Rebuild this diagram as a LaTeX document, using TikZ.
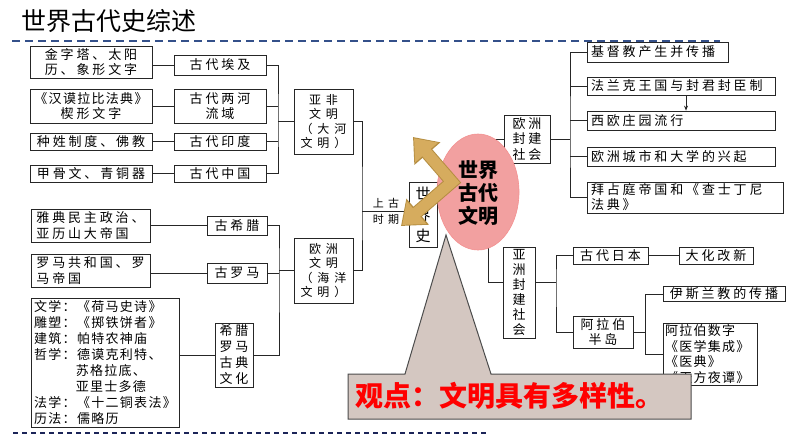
\documentclass[tikz,border=0pt]{standalone}
\usepackage{fontspec}
\usetikzlibrary{shapes.geometric,arrows.meta,calc}
\setmainfont{Noto Sans CJK SC}
\newfontfamily\cjk[LetterSpace=22]{Noto Sans CJK SC}
\newfontfamily\cjks[LetterSpace=10]{Noto Sans CJK SC}
\newfontfamily\cjkw[LetterSpace=40]{Noto Sans CJK SC}
\definecolor{dashA}{HTML}{34508A}
\definecolor{dashB}{HTML}{1B2458}
\definecolor{ellfill}{HTML}{F2A0A0}
\definecolor{goldc}{HTML}{D6AC5E}
\definecolor{golddk}{HTML}{B58E42}
\definecolor{callfill}{HTML}{D4C7C1}
\definecolor{redtxt}{HTML}{FF0000}
\tikzset{
  bx/.style={draw=black!85, line width=0.8pt, inner sep=0pt, align=center, fill=white,
    font=\cjk\fontsize{13}{15.5}\selectfont},
  sz/.style 2 args={minimum width=#1pt, minimum height=#2pt},
  lbx/.style={bx, align=left, inner xsep=4pt, text width=#1pt},
  conn/.style={draw=black!85, line width=0.8pt},
}
\begin{document}
\begin{tikzpicture}[x=1pt,y=-1pt]
\useasboundingbox (0,0) rectangle (794,447);
\fill[white] (0,0) rectangle (794,447);

% title and dashed rules
\node[anchor=west, inner sep=0pt, font=\fontsize{25}{30}\selectfont] (title) at (21,21) {世界古代史综述};
\draw[dashA, line width=2pt, dash pattern=on 8pt off 5pt] (12,41) -- (720,41);
\draw[dashB, line width=2pt, dash pattern=on 5pt off 4pt] (13,433) -- (486,433);

% Asia-Africa group
\node[bx, sz={122}{32}, align=left] (n1) at (91,62) {金字塔、太阳\\历、象形文字};
\node[bx, sz={92}{20}] (e1) at (220,65) {古代埃及};
\node[bx, sz={122}{34}] (n2) at (91,106) {{\cjks《汉谟拉比法典》}\\楔形文字};
\node[bx, sz={92}{34}] (e2) at (220,106) {古代两河\\流域};
\node[bx, sz={122}{17}] (n3) at (91,141.5) {种姓制度、佛教};
\node[bx, sz={92}{17}] (e3) at (220,141.5) {古代印度};
\node[bx, sz={122}{17}] (n4) at (91,173.5) {甲骨文、青铜器};
\node[bx, sz={92}{17}] (e4) at (220,173.5) {古代中国};

\node[bx, sz={59}{65}, font=\cjkw\fontsize{12}{14.5}\selectfont] (yafei) at (323.5,121.5) {亚非\\文明\\（大河\\文明）};
\node[bx, sz={59}{65}, font=\cjkw\fontsize{12}{14.5}\selectfont] (ouzhou) at (323.5,270.5) {欧洲\\文明\\（海洋\\文明）};

% Europe group
\node[bx, sz={119}{33}, align=left] (g1) at (90.5,225.5) {雅典民主政治、\\亚历山大帝国};
\node[bx, sz={60}{19}] (h1) at (237,225.5) {古希腊};
\node[bx, sz={119}{33}, align=left] (g2) at (90.5,270.5) {罗马共和国、罗\\马帝国};
\node[bx, sz={60}{20}] (h2) at (237,273) {古罗马};
\node[bx, sz={148}{129}, align=left, font=\cjks\fontsize{13}{16}\selectfont] (g3) at (105,362.5)
  {文学：《荷马史诗》\\雕塑：《掷铁饼者》\\建筑：帕特农神庙\\哲学：德谟克利特、\\\phantom{哲学：}苏格拉底、\\\phantom{哲学：}亚里士多德\\法学：《十二铜表法》\\历法：儒略历};
\node[bx, sz={38}{64}, font=\cjk\fontsize{13}{16}\selectfont] (h3) at (234,355) {希腊\\罗马\\古典\\文化};

% centre box and labels
\node[bx, sz={28}{65}, font=\fontsize{15}{21}\selectfont] (sjs) at (423,214.5) {世\\界\\史};
\node[font=\cjkw\fontsize{11}{12}\selectfont, inner sep=0pt] (lb1) at (386,203) {上古};
\node[font=\cjkw\fontsize{11}{12}\selectfont, inner sep=0pt] (lb2) at (386,219) {时期};

% left connectors
\draw[conn] (n1.east |- e1.west) -- (e1.west);
\draw[conn] (n2.east) -- (e2.west);
\draw[conn] (n3.east) -- (e3.west);
\draw[conn] (n4.east) -- (e4.west);
\coordinate (brA) at (278,121.5);
\draw[conn] (e1.east) -| (brA) |- (e4.east);
\draw[conn] (e2.east) -- (e2.east -| brA);
\draw[conn] (e3.east) -- (e3.east -| brA);
\draw[conn] (brA) -- (yafei.west);

\draw[conn] (g1.east) -- (h1.west);
\draw[conn] (g2.east |- h2.west) -- (h2.west);
\draw[conn] (g3.east |- h3.west) -- (h3.west);
\coordinate (brC) at (279,270.5);
\draw[conn] (h1.east) -| (brC) |- (h3.east);
\draw[conn] (h2.east) -- (h2.east -| brC);
\draw[conn] (brC) -- (ouzhou.west);

\coordinate (brB) at (362,211);
\draw[conn] (yafei.east) -| (brB) |- (ouzhou.east);
\draw[conn] (brB) -- (brB -| sjs.west);

% right side boxes
\node[bx, sz={46}{48}, font=\cjk\fontsize{13}{15.5}\selectfont] (ofj) at (527,139) {欧洲\\封建\\社会};
\node[bx, sz={32}{91}, font=\fontsize{13}{15}\selectfont] (yfj) at (519,292.5) {亚\\洲\\封\\建\\社\\会};

\node[lbx=133, minimum height=20pt] (r1) at (657.5,52) {基督教产生并传播};
\node[lbx=180, minimum height=18pt] (r2) at (681,86) {法兰克王国与封君封臣制};
\node[lbx=180, minimum height=19pt] (r3) at (681,120.5) {西欧庄园流行};
\node[lbx=180, minimum height=19pt] (r4) at (681,156.5) {欧洲城市和大学的兴起};
\node[lbx=188, minimum height=31pt, font=\cjk\fontsize{13}{15}\selectfont] (r5) at (685,197.5) {拜占庭帝国和《查士丁尼\\法典》};

\node[bx, sz={75}{17}] (a1) at (610.5,255.5) {古代日本};
\node[bx, sz={74}{17}] (a2) at (716,255.5) {大化改新};
\node[bx, sz={60}{32}] (a3) at (603,332) {阿拉伯\\半岛};
\node[bx, sz={122}{15}] (a4) at (724,294) {伊斯兰教的传播};
\node[bx, align=left, inner xsep=2pt, text width=90pt, minimum height=62pt, font=\cjks\fontsize{13}{15.5}\selectfont] (a5) at (710,354) {阿拉伯数字\\《医学集成》\\《医典》\\《天方夜谭》};

% right connectors
\coordinate (brD) at (488,200);
\draw[conn] (ofj.west) -| (brD) |- ($(yfj.west)+(0,-10)$);
\coordinate (brE) at (570,139);
\draw[conn] (r1.west) -| (brE) |- (r5.west);
\draw[conn] (r2.west) -- (r2.west -| brE);
\draw[conn] (r3.west) -- (r3.west -| brE);
\draw[conn] (r4.west) -- (r4.west -| brE);
\draw[conn] (ofj.east) -- (brE);
\draw[conn, -{Stealth[length=5pt,width=4pt]}] ($(r2.south)+(5,0)$) -- ($(r3.north)+(5,0)$);

\coordinate (brF) at (556,282.5);
\draw[conn] (a1.west) -| (brF) |- (a3.west);
\draw[conn] (brF) -- (brF -| yfj.east);
\draw[conn] (a1.east) -- (a2.west);
\coordinate (brG) at (645,332);
\draw[conn] (a4.west) -| (brG) |- (a5.west);
\draw[conn] (a3.east) -- (brG);

% ellipse
\node[ellipse, fill=ellfill, draw=ellfill!90!red, line width=0.6pt, minimum width=82pt, minimum height=116pt, inner sep=0pt] (ell) at (478,192) {};

% golden double arrow
\coordinate (ar1) at (413,137);
\coordinate (arv) at (452,182);
\coordinate (ar2) at (401,226);
\draw[golddk, line width=13pt, line join=miter,
  {Triangle[width=33pt,length=22pt]}-{Triangle[width=33pt,length=22pt]}] (ar1) -- (arv) -- (ar2);
\draw[goldc, line width=11pt, line join=miter, shorten <=1.6pt, shorten >=1.6pt,
  {Triangle[width=29pt,length=19pt]}-{Triangle[width=29pt,length=19pt]}] (ar1) -- (arv) -- (ar2);

\node[font=\bfseries\fontsize{20}{23}\selectfont, align=center, inner sep=0pt] (elltxt) at (478,193) {世界\\古代\\文明};

% callout
\draw[fill=callfill, draw=black!70, line width=1pt] (348,374) -- (405,374) -- (446,235) -- (491,374) -- (691,374) -- (691,419) -- (348,419) -- cycle;
\node[anchor=west, inner sep=0pt, text=redtxt, font=\bfseries\fontsize{28}{32}\selectfont] (view) at (355,396) {观点：文明具有多样性。};
\end{tikzpicture}
\end{document}
